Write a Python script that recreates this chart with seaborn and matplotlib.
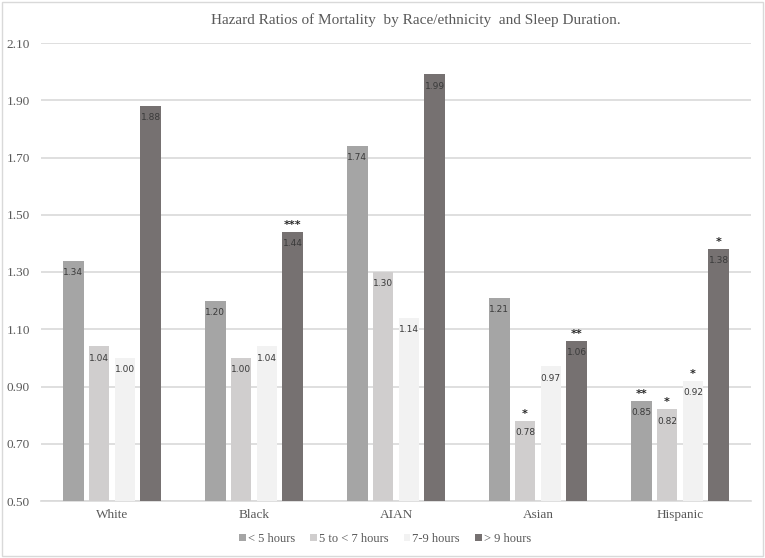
import matplotlib
matplotlib.use("Agg")
import matplotlib.pyplot as plt
import matplotlib.patches as mpatches
import seaborn as sns
import pandas as pd

groups = ["White", "Black", "AIAN", "Asian", "Hispanic"]
sleep = ["< 5 hours", "5 to < 7 hours", "7-9 hours", "> 9 hours"]
lt5 = [1.34, 1.20, 1.74, 1.21, 0.85]
h5to7 = [1.04, 1.00, 1.30, 0.78, 0.82]
h7to9 = [1.00, 1.04, 1.14, 0.97, 0.92]
gt9 = [1.88, 1.44, 1.99, 1.06, 1.38]
stars_lt5 = ["", "", "", "", "**"]
stars_5to7 = ["", "", "", "*", "*"]
stars_7to9 = ["", "", "", "", "*"]
stars_gt9 = ["", "***", "", "**", "*"]
yticks = [0.50, 0.70, 0.90, 1.10, 1.30, 1.50, 1.70, 1.90, 2.10]
title = "Hazard Ratios of Mortality  by Race/ethnicity  and Sleep Duration."

colors = ["#a5a5a5", "#d0cece", "#f2f2f2", "#767171"]
series = [lt5, h5to7, h7to9, gt9]
stars = [stars_lt5, stars_5to7, stars_7to9, stars_gt9]

rows = []
for s, vals in zip(sleep, series):
    for g, v in zip(groups, vals):
        rows.append({"group": g, "sleep": s, "hr": v})
df = pd.DataFrame(rows)

sns.set_theme(style="white")
serif = "Liberation Serif"
grey = "#595959"

fig = plt.figure(figsize=(7.65, 5.58), dpi=100)
ax = fig.add_axes([41 / 765, 57 / 558, 710 / 765, 458 / 558])

sns.barplot(data=df, x="group", y="hr", hue="sleep", order=groups, hue_order=sleep,
            palette=colors, width=0.726, gap=0.2, linewidth=0, saturation=1,
            errorbar=None, ax=ax, legend=False, zorder=3)

ax.set_ylim(0.5, 2.1)
ax.set_xlim(-0.5, len(groups) - 0.5)
ax.set_yticks(yticks)
ax.set_yticklabels([f"{t:.2f}" for t in yticks], fontfamily=serif, fontsize=9.5, color=grey)
ax.set_xticks(range(len(groups)))
ax.set_xticklabels(groups, fontfamily=serif, fontsize=9.5, color=grey)
ax.tick_params(axis="x", length=0, pad=6)
ax.tick_params(axis="y", length=0, pad=8)
ax.set_xlabel("")
ax.set_ylabel("")
ax.grid(axis="y", color="#d9d9d9", linewidth=1.2, zorder=0)
ax.set_axisbelow(True)
for sp in ["top", "right", "left"]:
    ax.spines[sp].set_visible(False)
ax.spines["bottom"].set_color("#d9d9d9")
ax.spines["bottom"].set_linewidth(1.2)

for cont, vals, st in zip(ax.containers, series, stars):
    for bar, v, s in zip(cont.patches, vals, st):
        x = bar.get_x() + bar.get_width() / 2
        h = bar.get_height()
        ax.annotate(f"{v:.2f}", xy=(x, h), xytext=(0, -8.5), textcoords="offset points",
                    ha="center", va="center", fontsize=6.5, color="#3a3a3a",
                    fontfamily="DejaVu Sans")
        if s:
            ax.annotate(s, xy=(x, h), xytext=(0, 5), textcoords="offset points",
                        ha="center", va="center", fontsize=8, color="#262626",
                        fontweight="bold", fontfamily="DejaVu Sans")

handles = [mpatches.Patch(facecolor=c, edgecolor="none", label=l) for c, l in zip(colors, sleep)]
leg = fig.legend(handles=handles, loc="center", bbox_to_anchor=(385 / 765, 1 - 539 / 558),
                 ncol=4, frameon=False, handlelength=0.55, handleheight=0.55,
                 handletextpad=0.15, columnspacing=1.2,
                 prop={"family": serif, "size": 9})
for t in leg.get_texts():
    t.set_color(grey)

fig.text(416 / 765, 1 - 20 / 558, title, ha="center", va="center",
         fontfamily=serif, fontsize=11, color=grey)

fig.patches.append(mpatches.Rectangle((0.003, 0.003), 0.994, 0.994, transform=fig.transFigure,
                                      fill=False, edgecolor="#d9d9d9", linewidth=1))

fig.savefig("out.png", dpi=100)
